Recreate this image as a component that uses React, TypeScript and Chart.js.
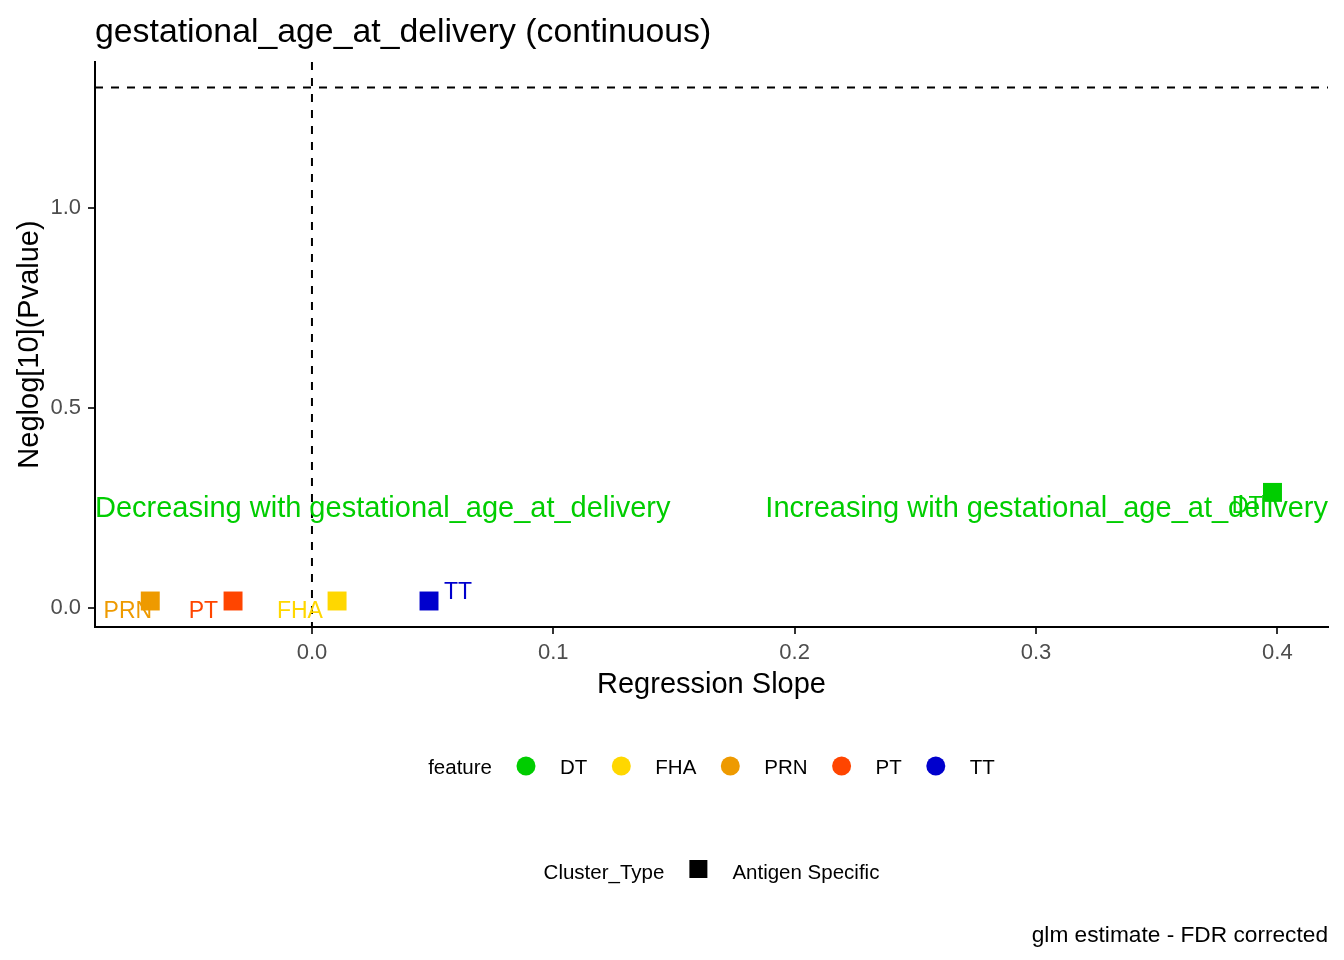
import { useEffect, useRef } from "react";
import { Chart, registerables } from "chart.js";

Chart.register(...registerables);

const FONT = "'Liberation Sans', Arial, sans-serif";

// glm results per antigen
const features = ["DT", "FHA", "PRN", "PT", "TT"];
const featureColors = ["#00CD00", "#FFD700", "#EE9A00", "#FF4500", "#0000CD"];
const slopes = [0.398, 0.0104, -0.067, -0.0327, 0.0485];
const negLogP = [0.289, 0.0175, 0.0175, 0.0175, 0.0175];
// repelled text label anchors, in data units
const labelX = [0.3875, -0.005, -0.0763, -0.045, 0.0605];
const labelY = [0.258, -0.0025, -0.0025, -0.0025, 0.045];

const xTicks = [0, 0.1, 0.2, 0.3, 0.4];
const yTicks = [0, 0.5, 1.0];
const xRange = [-0.0899, 0.421];
const yRange = [-0.0475, 1.365];

const pCutoff = -Math.log10(0.05);
const annotY = 0.253;
const outcome = "gestational_age_at_delivery";

function drawLegendRow(
  ctx: CanvasRenderingContext2D,
  cx: number,
  keyY: number,
  baseY: number,
  title: string,
  items: { label: string; color: string; shape: "circle" | "square" }[]
) {
  ctx.font = `20.5px ${FONT}`;
  const gap = 24.5;
  const keySize = 19;
  const titleW = ctx.measureText(title).width;
  const labelWs = items.map((it) => ctx.measureText(it.label).width);
  let total = titleW;
  items.forEach((_, i) => {
    total += gap + keySize + gap + labelWs[i];
  });
  let x = cx - total / 2;
  ctx.fillStyle = "#000";
  ctx.textAlign = "left";
  ctx.textBaseline = "alphabetic";
  ctx.fillText(title, x, baseY);
  x += titleW;
  items.forEach((it, i) => {
    x += gap;
    ctx.fillStyle = it.color;
    if (it.shape === "circle") {
      ctx.beginPath();
      ctx.arc(x + keySize / 2, keyY, keySize / 2, 0, Math.PI * 2);
      ctx.fill();
    } else {
      ctx.fillRect(x + 0.5, keyY - 9, 18, 18);
    }
    x += keySize + gap;
    ctx.fillStyle = "#000";
    ctx.fillText(it.label, x, baseY);
    x += labelWs[i];
  });
}

const overlay = {
  id: "overlay",
  beforeDatasetsDraw(chart: any) {
    const { ctx, chartArea, scales } = chart;
    const x0 = scales.x.getPixelForValue(0);
    const yp = scales.y.getPixelForValue(pCutoff);
    ctx.save();
    ctx.strokeStyle = "#000";
    ctx.lineWidth = 2;
    ctx.setLineDash([8, 8]);
    ctx.beginPath();
    ctx.moveTo(x0, chartArea.top);
    ctx.lineTo(x0, chartArea.bottom);
    ctx.moveTo(chartArea.left, yp);
    ctx.lineTo(chartArea.right, yp);
    ctx.stroke();
    ctx.restore();
  },
  afterDatasetsDraw(chart: any) {
    const { ctx, chartArea, scales } = chart;
    ctx.save();
    // direction annotations
    const ay = scales.y.getPixelForValue(annotY) + 10;
    ctx.font = `29px ${FONT}`;
    ctx.fillStyle = "#00CD00";
    ctx.textBaseline = "alphabetic";
    ctx.textAlign = "left";
    ctx.fillText(`Decreasing with ${outcome}`, chartArea.left, ay);
    ctx.textAlign = "right";
    ctx.fillText(`Increasing with ${outcome}`, chartArea.right, ay);
    // point labels
    ctx.font = `23px ${FONT}`;
    ctx.textAlign = "center";
    features.forEach((f, i) => {
      ctx.fillStyle = featureColors[i];
      ctx.fillText(
        f,
        scales.x.getPixelForValue(labelX[i]),
        scales.y.getPixelForValue(labelY[i]) + 8.5
      );
    });
    ctx.restore();
  },
  afterDraw(chart: any) {
    const { ctx, chartArea } = chart;
    const midX = (chartArea.left + chartArea.right) / 2;
    const midY = (chartArea.top + chartArea.bottom) / 2;
    ctx.save();
    ctx.fillStyle = "#000";
    ctx.textBaseline = "alphabetic";
    // title
    ctx.font = `33.8px ${FONT}`;
    ctx.textAlign = "left";
    ctx.fillText(`${outcome} (continuous)`, chartArea.left, 42);
    // axis titles
    ctx.font = `29px ${FONT}`;
    ctx.textAlign = "center";
    ctx.fillText("Regression Slope", midX, 693);
    ctx.save();
    ctx.translate(38, midY);
    ctx.rotate(-Math.PI / 2);
    ctx.fillText("Neglog[10](Pvalue)", 0, 0);
    ctx.restore();
    // legends
    drawLegendRow(
      ctx,
      midX,
      766,
      774,
      "feature",
      features.map((f, i) => ({ label: f, color: featureColors[i], shape: "circle" }))
    );
    drawLegendRow(ctx, midX, 869, 879, "Cluster_Type", [
      { label: "Antigen Specific", color: "#000", shape: "square" },
    ]);
    // caption
    ctx.font = `22.7px ${FONT}`;
    ctx.textAlign = "right";
    ctx.fillText("glm estimate - FDR corrected", chartArea.right, 942);
    ctx.restore();
  },
};

export default function App() {
  const canvasRef = useRef<HTMLCanvasElement>(null);
  const chartRef = useRef<Chart | null>(null);

  useEffect(() => {
    if (!canvasRef.current) return;
    if (chartRef.current) chartRef.current.destroy();

    const datasets = features.map((f, i) => ({
      label: f,
      data: [{ x: slopes[i], y: negLogP[i] }],
      pointStyle: "rect" as const,
      pointRadius: 13.4,
      pointBorderWidth: 0,
      backgroundColor: featureColors[i],
      borderColor: featureColors[i],
    }));

    chartRef.current = new Chart(canvasRef.current, {
      type: "scatter",
      data: { datasets },
      options: {
        responsive: false,
        animation: false,
        layout: { padding: { top: 62, right: 16, left: 0, bottom: 0 } },
        plugins: {
          legend: { display: false },
          tooltip: { enabled: false },
        },
        scales: {
          x: {
            type: "linear",
            min: xRange[0],
            max: xRange[1],
            afterFit: (scale: any) => {
              scale.height = 333;
            },
            afterBuildTicks: (scale: any) => {
              scale.ticks = xTicks.map((value) => ({ value }));
            },
            ticks: {
              autoSkip: false,
              maxRotation: 0,
              padding: 6,
              color: "#4D4D4D",
              font: { family: FONT, size: 22 },
              callback: (v: any) => Number(v).toFixed(1),
            },
            grid: {
              drawOnChartArea: false,
              drawTicks: true,
              tickLength: 7,
              color: "#333333",
              lineWidth: 2,
            },
            border: { display: true, color: "#000", width: 2 },
          },
          y: {
            type: "linear",
            min: yRange[0],
            max: yRange[1],
            afterFit: (scale: any) => {
              scale.width = 95;
            },
            afterBuildTicks: (scale: any) => {
              scale.ticks = yTicks.map((value) => ({ value }));
            },
            ticks: {
              autoSkip: false,
              padding: 7,
              color: "#4D4D4D",
              font: { family: FONT, size: 22 },
              callback: (v: any) => Number(v).toFixed(1),
            },
            grid: {
              drawOnChartArea: false,
              drawTicks: true,
              tickLength: 7,
              color: "#333333",
              lineWidth: 2,
            },
            border: { display: true, color: "#000", width: 2 },
          },
        },
      },
      plugins: [overlay],
    });

    return () => {
      if (chartRef.current) {
        chartRef.current.destroy();
        chartRef.current = null;
      }
    };
  }, []);

  return (
    <div style={{ position: "absolute", left: 0, top: 0, width: 1344, height: 960, background: "#fff" }}>
      <canvas ref={canvasRef} width={1344} height={960} />
    </div>
  );
}
